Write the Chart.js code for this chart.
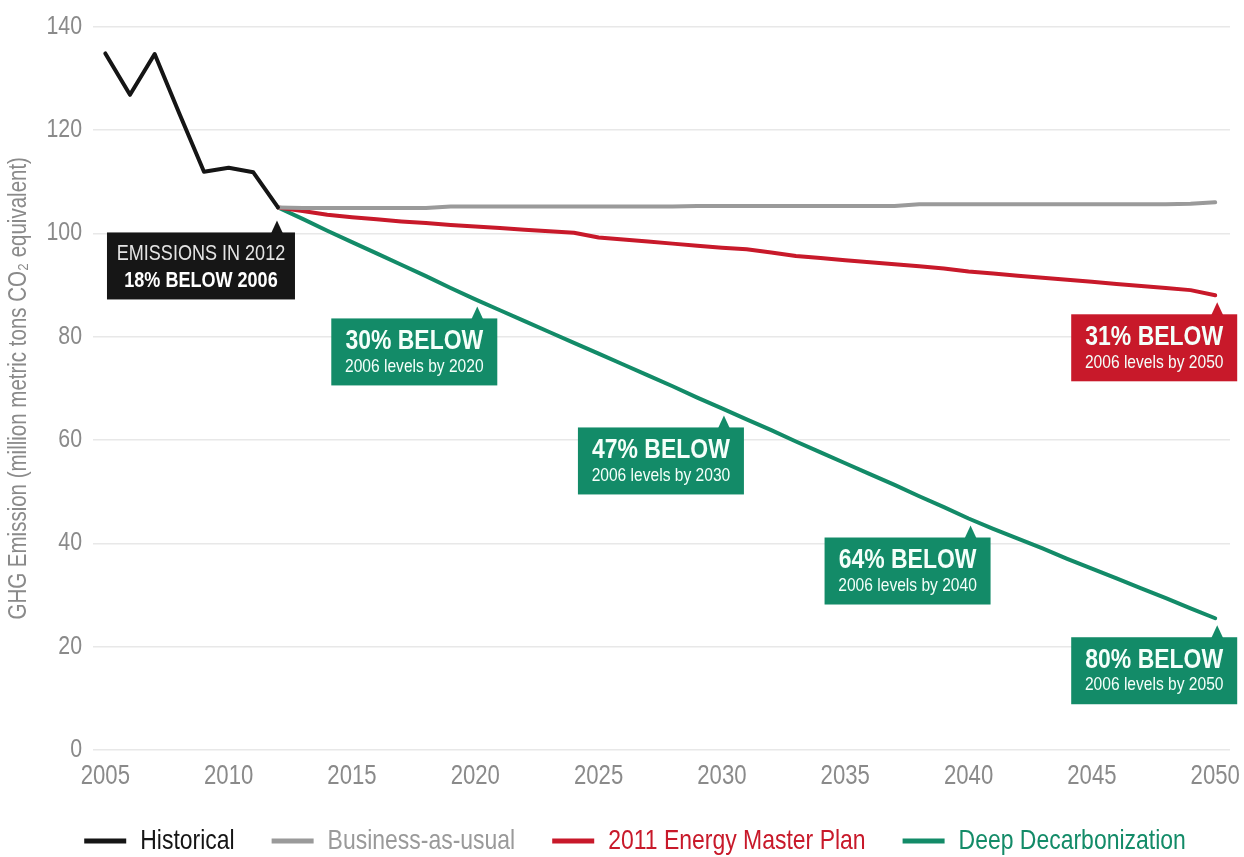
<!DOCTYPE html>
<html>
<head>
<meta charset="utf-8">
<script src="https://cdn.jsdelivr.net/npm/chart.js@4.4.1/dist/chart.umd.min.js"></script>
<style>
  html, body { margin: 0; padding: 0; background: #fff; }
  #wrap { width: 1244px; height: 857px; }
</style>
</head>
<body>
<div id="wrap"><canvas id="ghgChart"></canvas></div>
<script>
// Historical emissions (million metric tons CO2e)
const historyYears = [2005, 2006, 2007, 2008, 2009, 2010, 2011, 2012];
const historyValues = [134.8, 126.8, 134.7, 123.2, 111.9, 112.7, 111.8, 105.0];

// Projection years shared by the three scenarios
const projectionYears = [
  2012, 2013, 2014, 2015, 2016, 2017, 2018, 2019, 2020,
  2021, 2022, 2023, 2024, 2025, 2026, 2027, 2028, 2029, 2030,
  2031, 2032, 2033, 2034, 2035, 2036, 2037, 2038, 2039, 2040,
  2041, 2042, 2043, 2044, 2045, 2046, 2047, 2048, 2049, 2050
];
const bauValues = [
  105.0, 104.9, 104.9, 104.9, 104.9, 104.9, 104.9, 105.2, 105.2,
  105.2, 105.2, 105.2, 105.2, 105.2, 105.2, 105.2, 105.2, 105.3, 105.3,
  105.3, 105.3, 105.3, 105.3, 105.3, 105.3, 105.3, 105.6, 105.6, 105.6,
  105.6, 105.6, 105.6, 105.6, 105.6, 105.6, 105.6, 105.6, 105.7, 106.0
];
const planValues = [
  105.0, 104.3, 103.6, 103.1, 102.7, 102.3, 102.0, 101.6, 101.3,
  101.0, 100.7, 100.4, 100.1, 99.2, 98.8, 98.4, 98.0, 97.6, 97.2,
  96.9, 96.3, 95.6, 95.2, 94.8, 94.4, 94.0, 93.6, 93.2, 92.6,
  92.2, 91.8, 91.4, 91.0, 90.6, 90.2, 89.8, 89.4, 89.0, 88.0
];
const deepValues = [
  105.0, 102.8, 100.5, 98.3, 96.1, 93.9, 91.7, 89.4, 87.2,
  85.1, 83.0, 80.9, 78.8, 76.7, 74.6, 72.5, 70.4, 68.2, 66.1,
  64.0, 61.9, 59.7, 57.6, 55.5, 53.4, 51.3, 49.1, 47.0, 44.8,
  42.8, 40.9, 39.0, 37.0, 35.1, 33.2, 31.3, 29.4, 27.4, 25.5
];

// Axis ticks
const xTickYears = [2005, 2010, 2015, 2020, 2025, 2030, 2035, 2040, 2045, 2050];
const yTickValues = [0, 20, 40, 60, 80, 100, 120, 140];

// Callout boxes: which series and year they point at
const callouts = [
  { series: 0, year: 2012, head: 'EMISSIONS IN 2012', sub: '18% BELOW 2006', dark: true },
  { series: 3, year: 2020, head: '30% BELOW', sub: '2006 levels by 2020' },
  { series: 3, year: 2030, head: '47% BELOW', sub: '2006 levels by 2030' },
  { series: 3, year: 2040, head: '64% BELOW', sub: '2006 levels by 2040' },
  { series: 3, year: 2050, head: '80% BELOW', sub: '2006 levels by 2050' },
  { series: 2, year: 2050, head: '31% BELOW', sub: '2006 levels by 2050' }
];

const FONT = "'Liberation Sans', Arial, sans-serif";
const TEXT_GRAY = '#8a8a8a';
const COLORS = ['#151515', '#9a9a9a', '#c8192a', '#138b68'];

// The original uses a condensed typeface and none is installed here,
// so every string drawn on this canvas is squeezed to 82% width.
const SQUEEZE = 0.82;
function condense(c) {
  const fill = c.fillText.bind(c);
  const measure = c.measureText.bind(c);
  c.fillText = function (text, x, y, maxWidth) {
    c.save();
    c.translate(x, y);
    c.scale(SQUEEZE, 1);
    if (maxWidth === undefined) fill(text, 0, 0);
    else fill(text, 0, 0, maxWidth / SQUEEZE);
    c.restore();
  };
  c.measureText = function (text) {
    const m = measure(text);
    return {
      width: m.width * SQUEEZE,
      actualBoundingBoxLeft: m.actualBoundingBoxLeft * SQUEEZE,
      actualBoundingBoxRight: m.actualBoundingBoxRight * SQUEEZE,
      actualBoundingBoxAscent: m.actualBoundingBoxAscent,
      actualBoundingBoxDescent: m.actualBoundingBoxDescent,
      fontBoundingBoxAscent: m.fontBoundingBoxAscent,
      fontBoundingBoxDescent: m.fontBoundingBoxDescent
    };
  };
}

function pairs(xs, ys) {
  return xs.map((x, i) => ({ x: x, y: ys[i] }));
}

function lineSet(label, data, color) {
  return {
    label: label,
    data: data,
    borderColor: color,
    backgroundColor: color,
    borderWidth: 4,
    pointRadius: 0,
    tension: 0,
    borderCapStyle: 'round',
    borderJoinStyle: 'round'
  };
}

function centerText(ctx, text, cx, y, font) {
  ctx.font = font;
  ctx.textAlign = 'center';
  ctx.textBaseline = 'middle';
  ctx.fillText(text, cx, y);
}

const calloutPlugin = {
  id: 'callouts',
  afterDatasetsDraw(chart) {
    const ctx = chart.ctx;
    callouts.forEach(c => {
      const ds = chart.data.datasets[c.series];
      const idx = ds.data.findIndex(p => p.x === c.year);
      const pt = chart.getDatasetMeta(c.series).data[idx];
      const w = c.dark ? 188 : 166;
      const h = 67;
      const tipX = pt.x + (c.dark ? -1 : 2);
      const tipY = pt.y + (c.dark ? 13 : 7);
      const top = tipY + 12;
      const right = tipX + (c.dark ? 18 : 20);
      const left = right - w;

      ctx.save();
      ctx.fillStyle = c.dark ? '#161616' : ds.borderColor;
      ctx.beginPath();
      ctx.moveTo(tipX, tipY);
      ctx.lineTo(tipX + 6, top + 1);
      ctx.lineTo(tipX - 6, top + 1);
      ctx.closePath();
      ctx.fill();
      ctx.fillRect(left, top, w, h);

      const cx = left + w / 2;
      if (c.dark) {
        ctx.fillStyle = '#e4e4e4';
        centerText(ctx, c.head, cx, top + 21, '22px ' + FONT);
        ctx.fillStyle = '#ffffff';
        centerText(ctx, c.sub, cx, top + 48, 'bold 22px ' + FONT);
      } else {
        ctx.fillStyle = '#f4fffa';
        centerText(ctx, c.head, cx, top + 23, 'bold 28px ' + FONT);
        centerText(ctx, c.sub, cx, top + 48, '19px ' + FONT);
      }
      ctx.restore();
    });
  }
};

Chart.defaults.font.family = FONT;

const ctx = document.getElementById('ghgChart').getContext('2d');
condense(ctx);

const ghgChart = new Chart(ctx, {
  type: 'line',
  data: {
    datasets: [
      lineSet('Historical', pairs(historyYears, historyValues), COLORS[0]),
      lineSet('Business-as-usual', pairs(projectionYears, bauValues), COLORS[1]),
      lineSet('2011 Energy Master Plan', pairs(projectionYears, planValues), COLORS[2]),
      lineSet('Deep Decarbonization', pairs(projectionYears, deepValues), COLORS[3])
    ]
  },
  options: {
    responsive: true,
    maintainAspectRatio: false,
    animation: false,
    // left padding pushes the legend row right; the y axis keeps its place
    layout: { padding: { left: 40, right: 14, top: 26, bottom: -8 } },
    plugins: {
      tooltip: { enabled: false },
      legend: {
        position: 'bottom',
        labels: {
          boxWidth: 42,
          boxHeight: 5,
          padding: 37,
          font: { size: 28 },
          generateLabels: chart => chart.data.datasets.map((ds, i) => ({
            text: ds.label,
            fillStyle: ds.borderColor,
            strokeStyle: ds.borderColor,
            fontColor: ds.borderColor,
            lineWidth: 0,
            hidden: false,
            datasetIndex: i
          }))
        }
      }
    },
    scales: {
      x: {
        type: 'linear',
        min: 2004.5,
        max: 2050.6,
        grid: { display: false, drawTicks: false },
        border: { display: false },
        afterBuildTicks: axis => { axis.ticks = xTickYears.map(v => ({ value: v })); },
        afterFit: axis => {
          axis.height = 40;
          // let the "2050" label hang into the right margin
          axis.paddingRight = 0;
        },
        ticks: {
          color: TEXT_GRAY,
          font: { size: 27, lineHeight: 1 },
          padding: 13,
          maxRotation: 0,
          autoSkip: false,
          callback: v => String(v)
        }
      },
      y: {
        min: 0,
        max: 140,
        grid: { color: '#e8e8e8', lineWidth: 1.5, drawTicks: false },
        border: { display: false },
        afterBuildTicks: axis => { axis.ticks = yTickValues.map(v => ({ value: v })); },
        afterFit: axis => { axis.width = 53; },
        ticks: {
          color: TEXT_GRAY,
          font: { size: 26 },
          padding: 11
        },
        title: {
          display: true,
          text: 'GHG Emission (million metric tons CO\u2082 equivalent)',
          color: TEXT_GRAY,
          font: { size: 25 },
          padding: { top: -36, bottom: 0 }
        }
      }
    }
  },
  plugins: [calloutPlugin]
});
</script>
</body>
</html>
